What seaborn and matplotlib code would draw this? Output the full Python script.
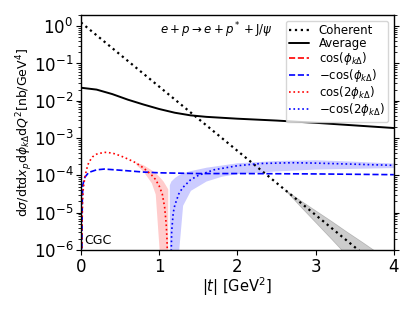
import numpy as np
import pandas as pd
import matplotlib
matplotlib.use("Agg")
import matplotlib.pyplot as plt
import seaborn as sns

# ---- data (log10 values) ----
t_coh = [0.0, 0.5, 1.0, 1.5, 2.0, 2.5, 3.0, 3.5, 4.0]
log_coh = [0.10, -0.76, -1.62, -2.48, -3.34, -4.20, -5.06, -5.92, -6.78]

t_coh_band = [2.6, 2.8, 3.0, 3.2, 3.4, 3.6, 3.8, 4.0]
log_coh_up = [-4.37, -4.66, -4.94, -5.22, -5.51, -5.79, -6.08, -6.36]
log_coh_lo = [-4.37, -4.82, -5.26, -5.70, -6.15, -6.59, -7.04, -7.48]

t_avg = [0.0, 0.2, 0.4, 0.6, 0.8, 1.0, 1.2, 1.4, 1.6, 2.0, 2.5, 3.0, 3.5, 4.0]
log_avg = [-1.65, -1.70, -1.82, -1.97, -2.10, -2.22, -2.32, -2.39, -2.43, -2.48,
           -2.53, -2.59, -2.66, -2.73]

t_cos1 = [0.012, 0.015, 0.018, 0.025, 0.05, 0.1, 0.2, 0.3, 0.5, 0.8, 1.0, 1.5,
          2.0, 3.0, 4.0]
log_mcos1 = [-6.2, -5.2, -4.6, -4.25, -4.05, -3.92, -3.85, -3.83, -3.86, -3.91,
             -3.93, -3.95, -3.95, -3.96, -3.98]

t_cos2 = [0.012, 0.015, 0.02, 0.03, 0.05, 0.075, 0.1, 0.15, 0.2, 0.3, 0.4, 0.5,
          0.6, 0.7, 0.8, 0.9, 0.95, 1.0, 1.04, 1.07, 1.09, 1.1, 1.11]
log_cos2 = [-6.3, -5.3, -4.7, -4.35, -4.05, -3.82, -3.65, -3.5, -3.43, -3.38,
            -3.4, -3.47, -3.56, -3.66, -3.8, -3.98, -4.1, -4.28, -4.5, -4.85,
            -5.3, -5.7, -6.5]
t_cos2_band = [0.7, 0.8, 0.9, 0.95, 1.0, 1.05, 1.11]
log_cos2_up = [-3.64, -3.72, -3.85, -3.93, -4.03, -4.15, -4.36]
log_cos2_lo = [-3.70, -3.90, -4.20, -4.50, -6.0, -9.0, -9.0]

t_mcos2 = [1.15, 1.16, 1.18, 1.2, 1.25, 1.3, 1.4, 1.5, 1.7, 2.0, 2.3, 2.7, 3.0,
           3.5, 4.0]
log_mcos2 = [-6.5, -5.5, -5.0, -4.8, -4.5, -4.33, -4.12, -4.0, -3.85, -3.74,
             -3.68, -3.66, -3.67, -3.70, -3.73]
t_mcos2_band = [1.13, 1.15, 1.2, 1.25, 1.3, 1.4, 1.6, 1.8, 2.0, 2.5, 3.0, 3.5, 4.0]
log_mcos2_up = [-4.25, -4.15, -4.05, -3.98, -3.93, -3.87, -3.78, -3.72, -3.66,
                -3.60, -3.58, -3.62, -3.67]
log_mcos2_lo = [-9.0, -9.0, -9.0, -6.0, -4.8, -4.4, -4.15, -4.02, -3.95, -3.88,
                -3.83, -3.81, -3.79]

labels = ["Coherent", "Average", r"$\cos(\phi_{k\Delta})$", r"$-\cos(\phi_{k\Delta})$",
          r"$\cos(2\phi_{k\Delta})$", r"$-\cos(2\phi_{k\Delta})$"]

p = lambda a: 10.0 ** np.asarray(a)

sns.set_style("ticks")
plt.rcParams["font.family"] = ["DejaVu Sans"]
plt.rcParams["mathtext.fontset"] = "dejavusans"
for k in ["text.color", "axes.labelcolor", "xtick.color", "ytick.color", "axes.edgecolor"]:
    plt.rcParams[k] = "black"

fig = plt.figure(figsize=(4.15, 3.11), dpi=100)
ax = fig.add_axes([0.195, 0.196, 0.754, 0.756])
ax.set_yscale("log")

# bands
ax.fill_between(t_coh_band, p(log_coh_lo), p(log_coh_up), facecolor="black", alpha=0.2,
                edgecolor="black", lw=0.5)
ax.fill_between(t_cos2_band, p(log_cos2_lo), p(log_cos2_up), color="red", alpha=0.2, lw=0)
ax.fill_between(t_mcos2_band, p(log_mcos2_lo), p(log_mcos2_up), color="blue", alpha=0.2, lw=0)

# lines
df_coh = pd.DataFrame({"t": t_coh, "v": p(log_coh)})
sns.lineplot(data=df_coh, x="t", y="v", ax=ax, color="black", ls=":", lw=1.6,
             label=labels[0], estimator=None, sort=False)
df_avg = pd.DataFrame({"t": t_avg, "v": p(log_avg)})
sns.lineplot(data=df_avg, x="t", y="v", ax=ax, color="black", ls="-", lw=1.4,
             label=labels[1], estimator=None, sort=False)
# cos(phi) is negative everywhere -> nothing visible on log axis
cos1 = -p(log_mcos1)
ax.plot(t_cos1, np.where(cos1 > 0, cos1, np.nan), color="red", ls="--", lw=1.2,
        label=labels[2])
df_m1 = pd.DataFrame({"t": t_cos1, "v": p(log_mcos1)})
sns.lineplot(data=df_m1, x="t", y="v", ax=ax, color="blue", ls="--", lw=1.2,
             label=labels[3], estimator=None, sort=False)
df_c2 = pd.DataFrame({"t": t_cos2, "v": p(log_cos2)})
sns.lineplot(data=df_c2, x="t", y="v", ax=ax, color="red", ls=":", lw=1.2,
             label=labels[4], estimator=None, sort=False)
df_m2 = pd.DataFrame({"t": t_mcos2, "v": p(log_mcos2)})
sns.lineplot(data=df_m2, x="t", y="v", ax=ax, color="blue", ls=":", lw=1.2,
             label=labels[5], estimator=None, sort=False)

ax.set_xlim(0, 4)
ax.set_ylim(1e-6, 2)
ax.set_xticks([0, 1, 2, 3, 4])
ax.tick_params(axis="both", which="major", labelsize=12, length=3.5, width=0.8, pad=2)
ax.tick_params(axis="y", which="both", right=True)
ax.tick_params(axis="y", which="minor", length=2, width=0.6)
for s in ax.spines.values():
    s.set_color("black")
    s.set_linewidth(1.0)

ax.set_xlabel(r"$|t|$ [GeV$^2$]", fontsize=10.5, labelpad=0)
ax.set_ylabel(r"d$\sigma$/dtd$x_p$d$\phi_{k\Delta}$d$Q^2$[nb/GeV$^4$]", fontsize=9,
              labelpad=-1)

handles, labs = ax.get_legend_handles_labels()
order = [labs.index(l) for l in labels]
ax.legend([handles[i] for i in order], [labs[i] for i in order], loc="upper right",
          fontsize=8.5, handlelength=1.7, handletextpad=0.8, labelspacing=0.0,
          borderpad=0.3, borderaxespad=0.5, frameon=True)

ax.text(0.252, 0.936, r"$e+p\rightarrow e+p^*+\mathrm{J}/\psi$", transform=ax.transAxes,
        fontsize=8.5, ha="left", va="center")
ax.text(0.01, 0.04, "CGC", transform=ax.transAxes, fontsize=9, ha="left", va="center")

fig.savefig("out.png", dpi=100)
